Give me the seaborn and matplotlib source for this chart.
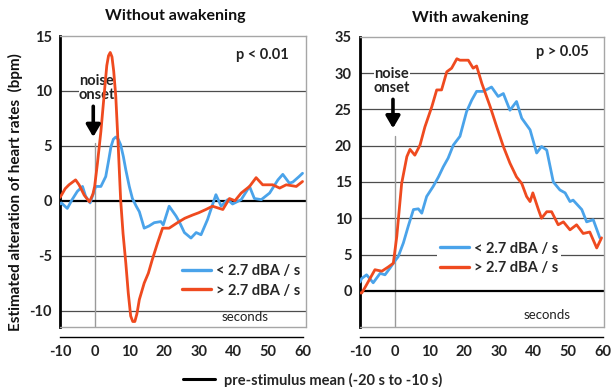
import numpy as np
import pandas as pd
import seaborn as sns
import matplotlib
matplotlib.use("Agg")
import matplotlib.pyplot as plt
from matplotlib.lines import Line2D

# ---- data: heart-rate change (bpm) vs. time from noise onset (s) ----
# Without awakening
t_wo_slow = [-10, -9.6, -7.9, -6.5, -5.0, -3.5, -2.6, -1.3, 0.3, 1.8, 3.2, 4.0, 4.7, 5.4, 6.1,
             6.8, 7.5, 8.3, 9.0, 10.0, 10.9, 12.0, 12.9, 14.3, 15.7, 17.2, 19.1, 19.8, 21.5, 23.5,
             24.4, 25.9, 27.8, 29.3, 30.7, 32.6, 35.0, 36.5, 38.4, 39.8, 42.3, 44.7, 46.1, 48.1,
             50.5, 52.9, 54.3, 56.2, 57.2, 59.0, 60.0]
v_wo_slow = [-0.3, -0.2, -0.7, 0.1, 0.85, 1.3, 0.4, -0.2, 1.3, 1.3, 2.2, 3.6, 4.9, 5.6, 5.8,
             5.6, 5.1, 4.0, 2.8, 1.3, 0.2, -0.5, -1.0, -2.5, -2.3, -2.0, -1.9, -2.2, -0.5, -1.4,
             -1.9, -2.9, -3.4, -2.9, -3.1, -1.7, 0.55, -0.5, 0.1, -0.3, 0.1, 1.3, 0.2, 0.1,
             0.7, 1.9, 2.4, 1.6, 1.7, 2.2, 2.5]

t_wo_fast = [-10, -9.6, -8.5, -7.4, -5.5, -4.5, -3.0, -1.5, -0.5, 0.0, 0.8, 1.8, 2.7, 3.5, 4.0,
             4.5, 5.0, 5.5, 6.1, 6.8, 7.5, 8.2, 9.0, 9.7, 10.4, 11.0, 11.6, 12.2, 12.9, 14.3,
             15.5, 16.6, 18.1, 19.6, 21.5, 23.9, 26.0, 28.3, 30.0, 32.1, 34.0, 37.0, 38.9,
             40.5, 42.3, 44.7, 46.6, 48.5, 51.4, 53.4, 55.3, 58.2, 60.0]
v_wo_fast = [0.3, 0.5, 1.1, 1.45, 1.9, 1.45, 0.5, -0.1, 0.6, 1.3, 3.4, 6.3, 9.5, 12.3, 13.2,
             13.5, 13.1, 11.8, 9.5, 5.0, 0.1, -3.0, -5.7, -8.4, -10.5, -11.0, -11.0, -10.3, -9.0, -7.5,
             -6.6, -5.4, -3.9, -2.5, -2.5, -2.0, -1.6, -1.3, -1.1, -0.8, -0.5, -0.8, 0.2,
             0.0, 0.7, 1.3, 2.1, 1.45, 1.45, 1.15, 1.45, 1.3, 1.75]

# With awakening
t_w_slow = [-10, -9.5, -8.1, -6.2, -4.2, -2.8, -1.4, -0.1, 1.0, 2.5, 3.9, 5.4, 6.8, 7.8, 9.2,
            11.1, 12.6, 14.0, 15.4, 16.9, 18.8, 20.7, 22.2, 23.6, 25.5, 27.9, 29.8, 31.3, 33.2,
            35.1, 36.6, 39.0, 40.9, 42.3, 43.8, 45.7, 47.6, 49.1, 50.5, 51.4, 53.9, 55.3, 57.2,
            59.1]
v_w_slow = [1.2, 1.7, 2.2, 1.1, 2.4, 2.2, 3.1, 4.0, 4.7, 6.6, 8.9, 11.2, 11.3, 10.7, 13.0,
            14.4, 15.7, 17.1, 18.3, 20.1, 21.3, 24.7, 26.3, 27.5, 27.5, 28.1, 26.8, 27.2, 24.9,
            26.1, 23.8, 22.2, 19.0, 19.9, 19.4, 15.0, 13.9, 13.5, 12.3, 12.5, 11.2, 9.5, 9.8,
            7.3]

t_w_fast = [-10, -9.5, -8.5, -7.1, -5.7, -3.7, -1.8, -0.4, 0.6, 2.0, 3.5, 4.4, 5.8, 7.3, 8.7,
            10.7, 12.1, 13.5, 15.0, 16.4, 17.9, 18.8, 21.2, 22.6, 23.6, 25.1, 27.5, 29.4, 31.3,
            33.2, 35.1, 36.6, 38.0, 39.0, 39.8, 41.4, 42.3, 43.8, 45.2, 47.1, 48.6, 50.5, 52.4,
            54.3, 56.2, 58.2, 59.6]
v_w_fast = [-0.3, -0.3, 0.5, 1.7, 2.9, 2.7, 3.3, 3.8, 7.5, 14.8, 18.5, 19.5, 18.7, 20.1, 22.6,
            25.4, 27.7, 27.7, 30.2, 30.7, 32.0, 31.8, 31.8, 30.7, 31.0, 28.6, 25.4, 22.6, 19.9,
            17.6, 15.7, 14.8, 13.0, 12.3, 13.5, 11.2, 10.0, 10.9, 10.9, 9.1, 9.5, 8.4, 9.1,
            7.9, 8.1, 5.9, 7.3]

x_ticks = [-10, 0, 10, 20, 30, 40, 50, 60]
label_slow = "< 2.7 dBA / s"
label_fast = "> 2.7 dBA / s"

BLUE = "#4aa3ea"
RED = "#ef4a1f"
GRID = "#4d4d4d"
FRAME = "#a6a6a6"

sns.set_theme(style="white")
plt.rcParams["font.family"] = ["Lato", "DejaVu Sans"]
plt.rcParams["font.weight"] = "bold"

fig = plt.figure(figsize=(6.12, 3.87), dpi=100)
ax1 = fig.add_axes([60 / 612, 1 - 327 / 387, 246 / 612, 291 / 387])
ax2 = fig.add_axes([360 / 612, 1 - 327 / 387, 244 / 612, 290 / 387])


def draw_panel(ax, ts, vs, tf, vf, ylim, yticks, ylabels, grid_vals, onset_top, arrow,
               onset_txt, ptxt, sec_pos, leg_anchor, xmax):
    df = pd.concat([
        pd.DataFrame({"t": ts, "v": vs, "rate": label_slow}),
        pd.DataFrame({"t": tf, "v": vf, "rate": label_fast}),
    ])
    sns.lineplot(data=df, x="t", y="v", hue="rate", palette=[BLUE, RED],
                 estimator=None, sort=False, lw=2.0, ax=ax, zorder=5)
    ax.set_xlim(-10, xmax)
    ax.set_ylim(*ylim)
    ax.set_xlabel("")
    ax.set_ylabel("")
    for g in grid_vals:
        ax.axhline(g, color=GRID, lw=0.9, zorder=1)
    ax.axhline(0, color="black", lw=1.6, zorder=2)
    # onset marker
    ax.plot([0, 0], [ylim[0], onset_top], color="#9a9a9a", lw=1.0, zorder=1)
    ax_x, ay0, ay1 = arrow
    ax.annotate("", xy=(ax_x, ay1), xytext=(ax_x, ay0),
                arrowprops=dict(arrowstyle="-|>,head_width=0.35,head_length=0.6",
                                color="black", lw=2.6, shrinkA=0, shrinkB=0), zorder=6)
    ax.text(onset_txt[0], onset_txt[1], "noise\nonset", ha="center", va="center",
            fontsize=10.5, fontweight="bold", color="#222222", linespacing=1.0,
            bbox=dict(facecolor="white", edgecolor="none", pad=0.0), zorder=4)
    ax.text(ptxt[0], ptxt[1], ptxt[2], ha="center", va="center", fontsize=10.5,
            fontweight="bold", color="#222222", zorder=4)
    ax.text(sec_pos[0], sec_pos[1], "seconds", ha="center", va="center", fontsize=9.5,
            fontweight="normal", color="#222222", zorder=4)

    # frame: thick left axis, light grey box, detached x axis below
    for s in ["top", "right"]:
        ax.spines[s].set_color(FRAME)
        ax.spines[s].set_linewidth(1.0)
    ax.spines["left"].set_color("black")
    ax.spines["left"].set_linewidth(2.0)
    ax.spines["bottom"].set_position(("outward", 7))
    ax.spines["bottom"].set_color("black")
    ax.spines["bottom"].set_linewidth(1.0)
    ax.spines["bottom"].set_bounds(-10, 60)
    ax.plot([0, 1], [0, 0], transform=ax.transAxes, color=FRAME, lw=1.0, clip_on=False, zorder=3)

    ax.set_xticks(x_ticks)
    ax.set_xticklabels([str(v) for v in x_ticks], fontsize=10.5, fontweight="bold")
    ax.set_yticks(yticks)
    ax.set_yticklabels(ylabels, fontsize=10.5, fontweight="bold")
    ax.tick_params(axis="x", direction="in", length=4, width=1, color="black", pad=6)
    ax.tick_params(axis="y", direction="out", length=5, width=1.2, color="black", pad=1)
    ax.tick_params(axis="both", labelcolor="#222222")

    leg = ax.legend(loc="upper left", bbox_to_anchor=leg_anchor, frameon=True,
                    fancybox=False, framealpha=1.0, edgecolor="none", facecolor="white",
                    handlelength=2.0, handletextpad=0.35, labelspacing=0.35,
                    borderpad=0.2, prop=dict(size=10.5, weight="bold"))
    for h in leg.get_lines():
        h.set_linewidth(2.4)
    leg.set_zorder(7)


draw_panel(ax1, t_wo_slow, v_wo_slow, t_wo_fast, v_wo_fast,
           ylim=(-11.5, 15), yticks=[-10, -5, 0, 5, 10, 15],
           ylabels=["-10", "-5", "0", "5", "10", "15"], grid_vals=[-10, -5, 5, 10],
           onset_top=5.3, arrow=(-0.4, 8.6, 5.8), onset_txt=(0.6, 10.3),
           ptxt=(48.5, 13.3, "p < 0.01"), sec_pos=(43.3, -10.6),
           leg_anchor=(0.455, 0.25), xmax=61)

draw_panel(ax2, t_w_slow, v_w_slow, t_w_fast, v_w_fast,
           ylim=(-5, 35), yticks=[-5, 0, 5, 10, 15, 20, 25, 30, 35],
           ylabels=["", "0", "5", "10", "15", "20", "25", "30", "35"],
           grid_vals=[5, 10, 15, 20, 25, 30],
           onset_top=21.3, arrow=(-0.5, 26.4, 22.4), onset_txt=(-0.8, 28.9),
           ptxt=(48.2, 32.9, "p > 0.05"), sec_pos=(43.9, -3.4),
           leg_anchor=(0.285, 0.33), xmax=60.3)

fig.text(175 / 612, 1 - 16 / 387, "Without awakening", ha="center", va="center",
         fontsize=11.5, fontweight="bold", color="#111111")
fig.text(470 / 612, 1 - 18 / 387, "With awakening", ha="center", va="center",
         fontsize=11.5, fontweight="bold", color="#111111")
fig.text(15 / 612, 1 - 192 / 387, "Estimated alteration of heart rates  (bpm)",
         rotation=90, ha="center", va="center", fontsize=11, fontweight="bold",
         color="#111111")

fig.legend(handles=[Line2D([], [], color="black", lw=2.2)],
           labels=["pre-stimulus mean (-20 s to -10 s)"], loc="center left",
           bbox_to_anchor=(183 / 612, 1 - 380 / 387), frameon=False, handlelength=2.2,
           handletextpad=0.6, borderpad=0.0, borderaxespad=0.0,
           prop=dict(size=10.5, weight="bold"))

fig.savefig("out.png", dpi=100)
